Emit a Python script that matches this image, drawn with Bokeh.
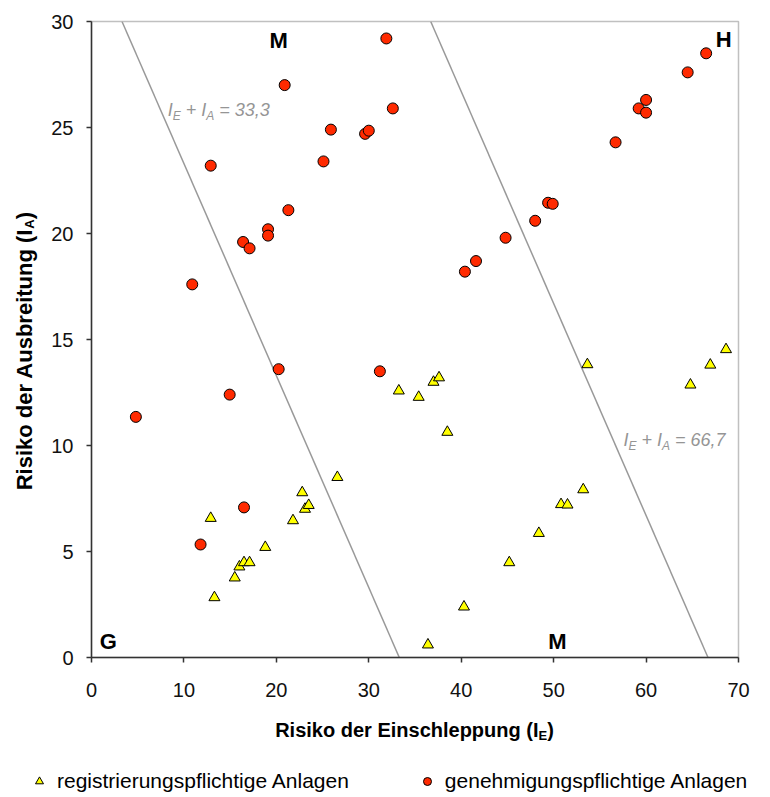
import math
from bokeh.plotting import figure
from bokeh.models import Range1d, Label, Legend, LegendItem, FixedTicker
from bokeh.layouts import column, row
from bokeh.embed import file_html
from bokeh.resources import INLINE

# ---------------- data ----------------
gen_x = [31.9, 20.9, 32.6, 25.9, 29.6, 30.0, 12.9, 25.1, 21.3, 19.1, 19.1, 16.4, 17.1, 10.9,
         66.5, 64.5, 60.0, 59.2, 60.0, 56.7, 49.4, 49.9, 48.0, 44.8, 41.6, 40.4,
         4.8, 14.95, 20.25, 31.2, 16.5, 11.8]
gen_y = [29.2, 27.0, 25.9, 24.9, 24.7, 24.85, 23.2, 23.4, 21.1, 20.2, 19.9, 19.6, 19.3, 17.6,
         28.5, 27.6, 26.3, 25.9, 25.7, 24.3, 21.45, 21.4, 20.6, 19.8, 18.7, 18.2,
         11.35, 12.4, 13.6, 13.5, 7.08, 5.33]

reg_x = [12.9, 13.3, 15.5, 16.0, 16.5, 17.1, 18.8, 21.8, 22.8, 23.1, 23.5, 26.6,
         33.25, 35.4, 37.0, 37.6, 38.5, 53.65, 64.8, 66.95, 68.65,
         53.2, 50.8, 51.5, 48.4, 45.2, 40.3, 36.4]
reg_y = [6.57, 2.83, 3.76, 4.28, 4.48, 4.48, 5.2, 6.46, 7.78, 7.0, 7.18, 8.5,
         12.58, 12.28, 12.99, 13.2, 10.63, 13.82, 12.86, 13.8, 14.53,
         7.92, 7.22, 7.2, 5.86, 4.48, 2.39, 0.6]

series_names = ["registrierungspflichtige Anlagen", "genehmigungspflichtige Anlagen"]
x_ticks = [0, 10, 20, 30, 40, 50, 60, 70]
y_ticks = [0, 5, 10, 15, 20, 25, 30]
boundary_sums = [33.3, 66.7]
boundary_texts = ["33,3", "66,7"]
zone_texts = ["M", "H", "G", "M"]
x_title = ["Risiko der Einschleppung (I", "E", ")"]
y_title = ["Risiko der Ausbreitung (I", "A", ")"]

# ---------------- styles ----------------
FONT = "Liberation Sans"
REG_STYLE = dict(marker="triangle", size=11, fill_color="#FFFF00", line_color="black", line_width=1)
GEN_STYLE = dict(marker="circle", size=11, fill_color="#FF2A00", line_color="black", line_width=1)

W_REG = {' ': 278, '+': 584, '=': 584, ',': 278, 'I': 278, 'E': 667, 'A': 667,
         '(': 333, ')': 333}
W_BOLD = {' ': 278, 'R': 722, 'i': 278, 's': 556, 'k': 556, 'o': 611, 'd': 611,
          'e': 556, 'r': 389, 'E': 667, 'n': 611, 'c': 556, 'h': 611, 'l': 278,
          'p': 611, 'u': 611, 'g': 611, '(': 333, 'I': 278, ')': 333, 'A': 722,
          'b': 611, 't': 333}


def tw(s, size, bold=False):
    tbl = W_BOLD if bold else W_REG
    return sum(tbl.get(c, 556) for c in s) * size / 1000.0


def rich(fig, x, y, parts, color, style, angle=0.0, center=False):
    """Text made of pieces of different size (sub-scripts), laid out in pixels."""
    bold = "bold" in style
    total = sum(tw(t, sz, bold) for t, sz, dy in parts)
    pos = -total / 2 if center else 0.0
    for t, sz, dy in parts:
        lead = len(t) - len(t.lstrip(" "))
        pos += tw(" " * lead, sz, bold)
        s = t.strip(" ")
        if angle == 0:
            xo, yo = pos, -dy
        else:
            xo, yo = dy, pos
        fig.add_layout(Label(x=x, y=y, x_offset=xo, y_offset=yo, text=s,
                             text_font=FONT, text_font_size=f"{sz}px",
                             text_font_style=style, text_color=color,
                             text_align="left", text_baseline="middle",
                             angle=angle))
        pos += tw(s, sz, bold)


def blank(w, h, xr=None, yr=None):
    f = figure(width=w, height=h,
               x_range=xr if xr is not None else Range1d(0, w),
               y_range=yr if yr is not None else Range1d(0, h),
               output_backend="svg", toolbar_location=None,
               x_axis_location=None, y_axis_location=None,
               min_border=0, outline_line_color=None)
    f.grid.visible = False
    f.border_fill_color = "white"
    return f


# ---------------- main chart ----------------
p = figure(width=730, height=710, x_range=Range1d(0, 70), y_range=Range1d(0, 30),
           output_backend="svg", toolbar_location=None,
           min_border_left=51, min_border_right=32, min_border_top=21,
           min_border_bottom=53)
p.background_fill_color = "white"
p.border_fill_color = "white"
p.outline_line_color = "#c0c0c0"
p.outline_line_width = 1.5
p.xgrid.visible = False
p.ygrid.visible = False

p.xaxis.ticker = FixedTicker(ticks=x_ticks)
p.yaxis.ticker = FixedTicker(ticks=y_ticks)
for ax in (p.xaxis, p.yaxis):
    ax.axis_line_color = "#333333"
    ax.axis_line_width = 1.5
    ax.major_tick_line_color = "#333333"
    ax.major_tick_line_width = 1.5
    ax.major_tick_out = 5
    ax.major_tick_in = 0
    ax.minor_tick_line_color = None
    ax.major_label_text_font = FONT
    ax.major_label_text_font_size = "20px"
    ax.major_label_text_color = "#111111"
p.xaxis.major_label_standoff = 20
p.yaxis.major_label_standoff = 13

# boundary lines I_E + I_A = const
p.segment(x0=[s - 30 for s in boundary_sums], y0=[30] * len(boundary_sums),
          x1=boundary_sums, y1=[0] * len(boundary_sums),
          line_color="#999999", line_width=1.5)

p.scatter(reg_x, reg_y, **REG_STYLE)
p.scatter(gen_x, gen_y, **GEN_STYLE)

# zone letters
for t, (zx, zy) in zip(zone_texts, [(20.25, 29.1), (68.4, 29.15), (1.82, 0.76), (50.4, 0.76)]):
    p.add_layout(Label(x=zx, y=zy, text=t, text_font=FONT, text_font_size="22px",
                       text_font_style="bold", text_color="black",
                       text_align="center", text_baseline="middle"))

# boundary equations
for val, (ex, ey) in zip(boundary_texts, [(8.25, 25.83), (57.55, 10.26)]):
    rich(p, ex, ey, [("I", 18, 0), ("E", 12, 6), (" + I", 18, 0), ("A", 12, 6),
                     (" = " + val, 18, 0)], "#959595", "italic")

# ---------------- axis titles ----------------
yfig = blank(40, 710)
rich(yfig, 24, 342, [(y_title[0], 22, 0), (y_title[1], 13, 5), (y_title[2], 22, 0)],
     "black", "bold", angle=math.pi / 2, center=True)

xfig = blank(770, 45)
rich(xfig, 414, 25.5, [(x_title[0], 20, 0), (x_title[1], 13, 5), (x_title[2], 20, 0)],
     "black", "bold", center=True)

# ---------------- legend (series drawn outside the visible window) ----------------
lfig = blank(770, 42, xr=Range1d(1000, 1770), yr=Range1d(1000, 1042))
l_reg = lfig.scatter(reg_x, reg_y, **REG_STYLE)
l_gen = lfig.scatter(gen_x, gen_y, **GEN_STYLE)
legend = Legend(items=[LegendItem(label=series_names[0], renderers=[l_reg]),
                       LegendItem(label=series_names[1], renderers=[l_gen])],
                orientation="horizontal", location=(29, 4),
                label_text_font=FONT, label_text_font_size="21px",
                label_text_color="black", glyph_width=20, glyph_height=20,
                label_standoff=8, spacing=68, padding=0, margin=0,
                label_height=20, border_line_color=None, background_fill_alpha=0)
lfig.add_layout(legend)

layout = column(row(yfig, p), xfig, lfig)
open("out.html", "w").write(file_html(layout, INLINE))
